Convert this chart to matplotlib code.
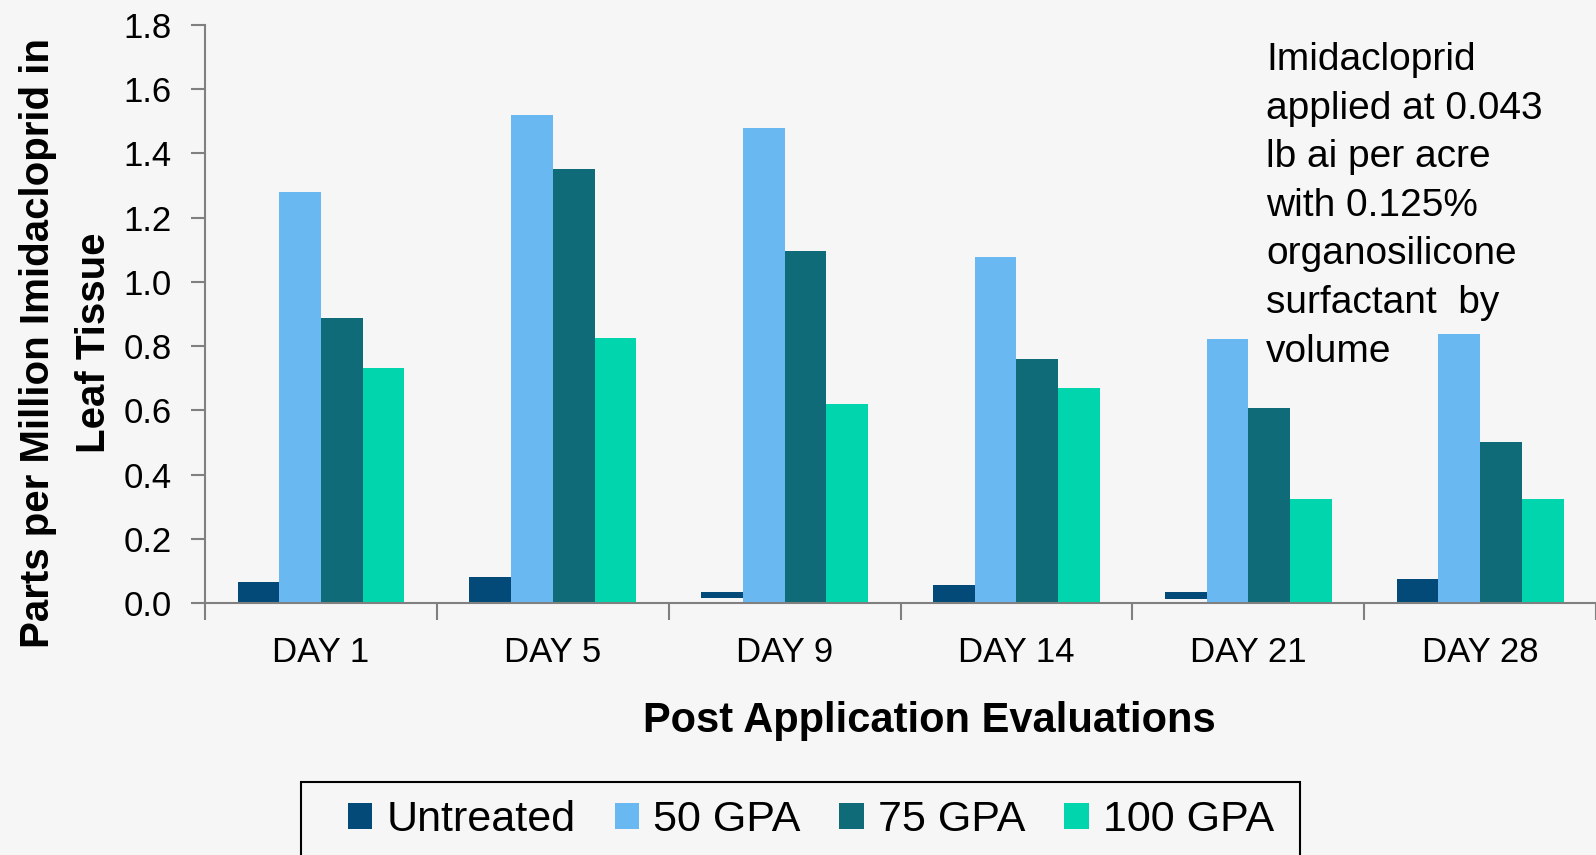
import matplotlib.pyplot as plt
from matplotlib.patches import Rectangle
import numpy as np

# data
days = ["DAY 1", "DAY 5", "DAY 9", "DAY 14", "DAY 21", "DAY 28"]
series = ["Untreated", "50 GPA", "75 GPA", "100 GPA"]
untreated = [0.067, 0.080, 0.035, 0.057, 0.033, 0.076]
untreated_base = [0, 0, 0.015, 0, 0.013, 0]  # two bars float just above zero
gpa50 = [1.28, 1.52, 1.48, 1.076, 0.822, 0.838]
gpa75 = [0.886, 1.35, 1.095, 0.76, 0.606, 0.50]
gpa100 = [0.733, 0.825, 0.62, 0.67, 0.324, 0.324]
colors = ["#034a78", "#6ab8f2", "#106b78", "#00d5ae"]

note = ("Imidacloprid\napplied at 0.043\nlb ai per acre\nwith 0.125%\n"
        "organosilicone\nsurfactant  by\nvolume")

plt.rcParams['font.family'] = ['Liberation Sans', 'DejaVu Sans']

fig = plt.figure(figsize=(15.96, 8.55), dpi=100, facecolor="#f6f6f6")
ax = fig.add_axes([0.1285, 0.2947, 0.8715, 0.6761])
ax.set_facecolor("none")

x = np.arange(len(days))
w = 0.18
ax.bar(x - 1.5 * w, np.array(untreated) - np.array(untreated_base), width=w,
       bottom=untreated_base, color=colors[0], label=series[0])
for i, vals in enumerate([gpa50, gpa75, gpa100], start=1):
    ax.bar(x + (i - 1.5) * w, vals, width=w, color=colors[i], label=series[i])

ax.set_xlim(-0.5, len(days) - 0.5)
ax.set_ylim(0, 1.8)
ax.set_yticks(np.arange(0, 1.81, 0.2))
ax.set_yticklabels(["%.1f" % v for v in np.arange(0, 1.81, 0.2)], fontsize=25)
ax.tick_params(axis='y', length=10, width=1.5, color="#808080", pad=14)

ax.set_xticks(x)
ax.set_xticklabels(days, fontsize=25)
ax.tick_params(axis='x', which='major', length=0, pad=24)
ax.set_xticks(np.arange(-0.5, len(days), 1), minor=True)
ax.tick_params(axis='x', which='minor', length=12, width=1.5, color="#808080")

for s in ["top", "right"]:
    ax.spines[s].set_visible(False)
for s in ["left", "bottom"]:
    ax.spines[s].set_color("#808080")
    ax.spines[s].set_linewidth(1.5)

ax.set_ylabel("Parts per Million Imidacloprid in\nLeaf Tissue", fontsize=29,
              fontweight='bold', linespacing=1.6)
ax.yaxis.set_label_coords(-0.066, 0.45)
ax.set_xlabel("Post Application Evaluations", fontsize=30, fontweight='bold')
ax.xaxis.set_label_coords(0.521, -0.17)

fig.text(1266 / 1596, 1 - 42 / 855, note, fontsize=28, va='top', ha='left',
         linespacing=1.45)

# legend box runs off the bottom edge, so draw the frame separately
fig.patches.append(Rectangle((301 / 1596, -0.02), 999 / 1596, 0.02 + 1 - 782 / 855,
                             transform=fig.transFigure, fill=False,
                             edgecolor="black", linewidth=1.5))
leg = fig.legend(loc='center', bbox_to_anchor=(811 / 1596, 1 - 820 / 855),
                 ncol=4, fontsize=31, frameon=False, handlelength=0.57,
                 handleheight=0.57, handletextpad=0.33, columnspacing=0.9,
                 borderpad=0, borderaxespad=0)

fig.savefig("out.png", dpi=100, facecolor=fig.get_facecolor())
